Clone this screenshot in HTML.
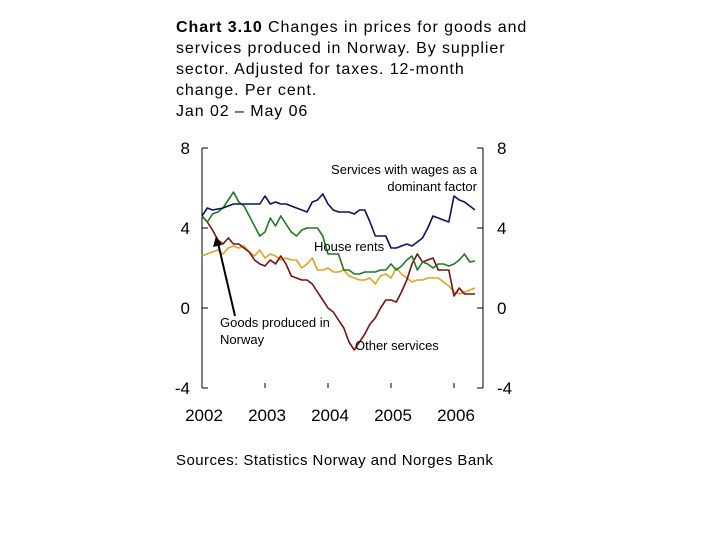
<!DOCTYPE html>
<html><head><meta charset="utf-8"><style>
body{margin:0;background:#fff;width:720px;height:540px;overflow:hidden;font-family:"Liberation Sans",sans-serif}
svg{position:absolute;left:0;top:0}
#title{position:absolute;left:176px;top:17px;width:420px;font-size:16px;line-height:21px;color:#000;white-space:nowrap;letter-spacing:0.93px}
#src{position:absolute;left:176px;top:452px;font-size:15px;color:#000;letter-spacing:0.45px}
</style></head><body>
<div id="title"><b>Chart 3.10</b> Changes in prices for goods and<br>services produced in Norway. By supplier<br>sector. Adjusted for taxes. 12-month<br>change. Per cent.<br>Jan 02 – May 06</div>
<svg id="chart" width="720" height="540"></svg>
<div id="src">Sources: Statistics Norway and Norges Bank</div>
<script>
const years=["2002","2003","2004","2005","2006"];
const yTicks=[8,4,0,-4];
const wages=[4.6,5.0,4.9,4.95,5.0,5.1,5.2,5.2,5.2,5.2,5.2,5.2,5.6,5.2,5.3,5.2,5.2,5.1,5.0,4.9,4.8,5.3,5.4,5.7,5.2,4.9,4.8,4.8,4.8,4.7,4.9,4.9,4.3,3.6,3.6,3.6,3.0,3.0,3.1,3.2,3.1,3.3,3.5,4.0,4.6,4.5,4.4,4.3,5.6,5.4,5.3,5.1,4.9];
const goods=[4.6,4.3,4.7,4.8,5.0,5.4,5.8,5.3,5.1,4.6,4.1,3.6,3.8,4.5,4.1,4.6,4.2,3.8,3.6,3.9,4.0,4.0,4.0,3.6,2.7,2.7,2.7,1.9,1.9,1.7,1.7,1.8,1.8,1.8,1.9,1.9,2.2,1.9,2.1,2.4,2.6,1.9,2.3,2.2,2.0,2.2,2.2,2.1,2.2,2.4,2.7,2.3,2.35];
const other=[4.6,4.3,3.9,3.4,3.2,3.5,3.2,3.2,3.0,2.8,2.4,2.2,2.1,2.4,2.2,2.6,2.2,1.6,1.5,1.4,1.4,1.2,0.8,0.4,0.0,-0.2,-0.6,-1.0,-1.7,-2.1,-1.7,-1.3,-0.8,-0.5,0.0,0.4,0.4,0.3,0.8,1.4,2.2,2.7,2.3,2.4,2.5,1.9,1.9,1.9,0.6,1.0,0.7,0.7,0.7];
const rents=[2.6,2.7,2.8,2.9,2.7,3.0,3.1,3.0,3.1,2.8,2.6,2.9,2.5,2.7,2.6,2.4,2.5,2.4,2.4,2.0,2.2,2.5,1.9,1.9,2.0,1.8,1.8,1.9,1.6,1.5,1.4,1.4,1.5,1.2,1.6,1.7,1.5,2.0,1.7,1.5,1.3,1.4,1.4,1.5,1.5,1.5,1.3,1.1,0.8,0.7,0.8,0.9,1.0];
const svg=document.getElementById('chart');const NS='http://www.w3.org/2000/svg';
const X0=202,MW=5.25,Y0=308,YU=20;
const xs=i=>X0+i*MW, ys=v=>Y0-v*YU;
function mk(t,a){const e=document.createElementNS(NS,t);for(const k in a)e.setAttribute(k,a[k]);svg.appendChild(e);return e;}
let e;
e=mk('line',{x1:202,y1:148,x2:202,y2:388,stroke:'#000'});


e=mk('line',{x1:483,y1:148,x2:483,y2:388,stroke:'#000'});


yTicks.forEach(v=>{
 const y=ys(v);
 e=mk('line',{x1:202,y1:y,x2:208,y2:y,stroke:'#000'});
 
 
 e=mk('line',{x1:477,y1:y,x2:483,y2:y,stroke:'#000'});
 
 
 e=mk('text',{x:190,y:y+6,'text-anchor':'end','font-size':17});e.textContent=v;
 
 
 e=mk('text',{x:497,y:y+6,'font-size':17});e.textContent=v;
 
 
});
years.forEach((yr,k)=>{
 const x=xs(12*k);
 if(k>0){e=mk('line',{x1:x,y1:383,x2:x,y2:388,stroke:'#000'});
 
 }
 e=mk('text',{x:x+2,y:421,'text-anchor':'middle','font-size':17});e.textContent=yr;
 
 
});
function line(d,c,n){const p=d.map((v,i)=>xs(i).toFixed(1)+','+ys(v).toFixed(1)).join(' ');
 e=mk('polyline',{points:p,fill:'none',stroke:c,'stroke-width':1.6,'stroke-linejoin':'round'});
 
 }
line(rents,'#e8a020','house-rents-line');
line(other,'#7a1010','other-services-line');
line(goods,'#1f7a1f','goods-line');
line(wages,'#101060','wages-services-line');
function lab(t,x,y,a,n){e=mk('text',{x:x,y:y,'font-size':13,'text-anchor':a});e.textContent=t;
 
 }
lab('Services with wages as a',477,174,'end','label-wages');
lab('dominant factor',477,191,'end','label-wages-2');
lab('House rents',314,251,'start','label-rents');
lab('Goods produced in',220,327,'start','label-goods');
lab('Norway',220,344,'start','label-goods-2');
lab('Other services',355,350,'start','label-other');
e=mk('line',{x1:235,y1:316,x2:218,y2:243,stroke:'#000','stroke-width':2});


e=mk('polygon',{points:'216,236 213,247 222,245',fill:'#000'});


</script>
</body></html>
